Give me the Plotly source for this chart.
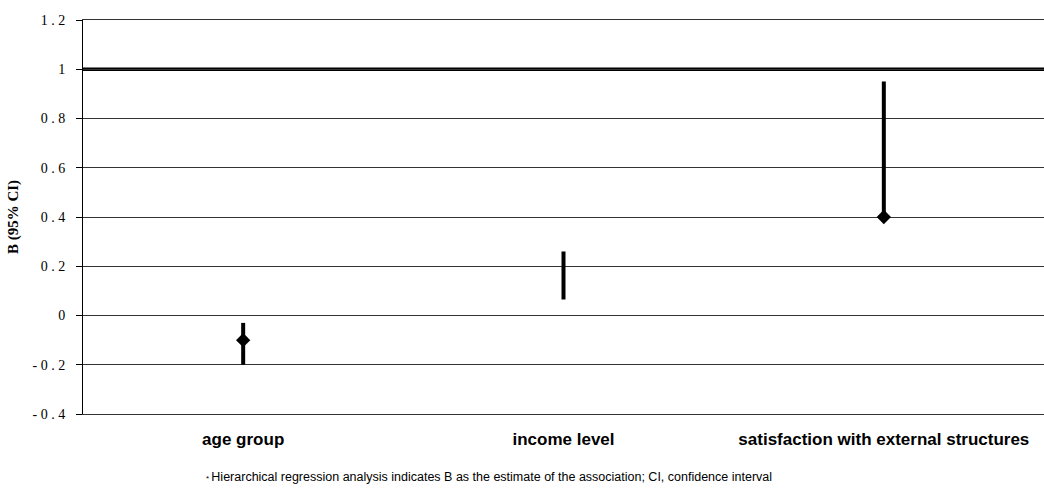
import plotly.graph_objects as go

categories = ["age group", "income level", "satisfaction with external structures"]
estimate_B = [-0.10, None, 0.40]
ci_lower = [-0.20, 0.065, 0.40]
ci_upper = [-0.03, 0.26, 0.95]
reference_value = 1.0

y_tickvals = [1.2, 1.0, 0.8, 0.6, 0.4, 0.2, 0.0, -0.2, -0.4]
y_ticktext = ["1 . 2", "1", "0 . 8", "0 . 6", "0 . 4", "0 . 2", "0", "- 0 . 2", "- 0 . 4"]

fig = go.Figure()

# CI lines
for cat, lo, hi in zip(categories, ci_lower, ci_upper):
    fig.add_trace(go.Scatter(
        x=[cat, cat], y=[lo, hi], mode="lines",
        line=dict(color="black", width=4), showlegend=False, hoverinfo="skip"))

# point estimates
fig.add_trace(go.Scatter(
    x=categories, y=estimate_B, mode="markers",
    marker=dict(symbol="diamond", size=11, color="black"),
    showlegend=False))

fig.add_hline(y=reference_value, line=dict(color="black", width=3.5), layer="below")

fig.update_layout(
    width=1044, height=489,
    margin=dict(l=83, r=0, t=20, b=75),
    paper_bgcolor="white", plot_bgcolor="white",
    xaxis=dict(
        type="category", categoryorder="array", categoryarray=categories,
        range=[-0.5, 2.5], showgrid=False, zeroline=False,
        showline=True, mirror=True, linecolor="#333", linewidth=1,
        ticks="", ticklabelstandoff=10,
        tickfont=dict(family="Liberation Sans, Arial", size=17, color="black", weight="bold"),
    ),
    yaxis=dict(
        range=[-0.4, 1.2], tickvals=y_tickvals, ticktext=y_ticktext,
        showgrid=True, gridcolor="#333", gridwidth=1,
        zeroline=False, showline=True, linecolor="black", linewidth=1,
        ticks="outside", ticklen=6, tickcolor="black", ticklabelstandoff=8,
        tickfont=dict(family="Liberation Serif, Times New Roman", size=14, color="black"),
        title=dict(text="<b>B (95% CI)</b>",
                   font=dict(family="Liberation Serif, Times New Roman", size=15, color="black"),
                   standoff=10),
    ),
    annotations=[dict(
        text="<span style='font-size:8px'>* </span>Hierarchical regression analysis indicates B as the estimate of the association; CI, confidence interval",
        xref="paper", yref="paper", x=0.4225, y=-0.16, xanchor="center", yanchor="middle",
        showarrow=False, font=dict(family="Liberation Sans, Arial", size=12.5, color="black"))],
)

fig.write_html("out.html")
